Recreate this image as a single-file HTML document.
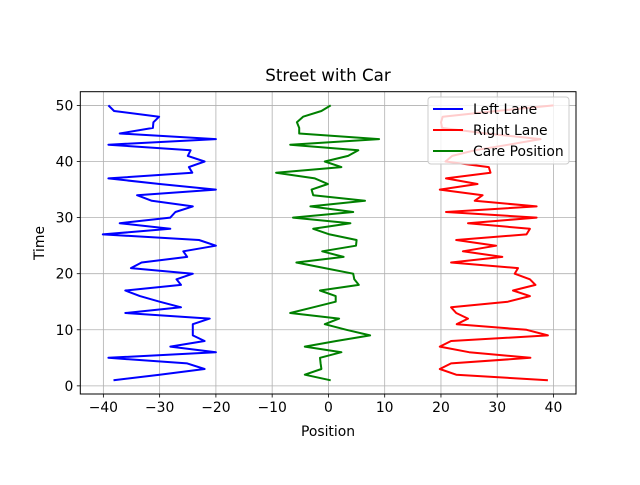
<!DOCTYPE html>
<html><head><meta charset="utf-8"><style>
body{margin:0;background:#fff;}
svg text{font-family:"DejaVu Sans","Liberation Sans",sans-serif;}
</style></head><body>
<svg id="chart" width="640" height="480" xmlns="http://www.w3.org/2000/svg">
<rect width="640" height="480" fill="#fff"/>
<text x="328" y="81" font-size="16.7" text-anchor="middle">Street with Car</text>
<g id="grid"></g>
<g id="series"></g>
<rect x="80.3" y="91.7" width="495.7" height="302.3" fill="none" stroke="#000" stroke-width="1"/>
<g id="ticks"></g>
<text x="328" y="436" font-size="13.9" text-anchor="middle">Position</text>
<text transform="translate(44,243) rotate(-90)" font-size="13.9" text-anchor="middle">Time</text>
<g id="legend">
<rect x="428" y="97" width="141" height="67" rx="3" fill="#fff" fill-opacity="0.8" stroke="#ccc"/>
<line x1="433" y1="109" x2="463" y2="109" stroke="#0000ff" stroke-width="2"/>
<text x="473" y="114" font-size="13.9">Left Lane</text>
<line x1="433" y1="130" x2="463" y2="130" stroke="#ff0000" stroke-width="2"/>
<text x="473" y="135" font-size="13.9">Right Lane</text>
<line x1="433" y1="151" x2="463" y2="151" stroke="#008000" stroke-width="2"/>
<text x="473" y="156" font-size="13.9">Care Position</text>
</g>
</svg>
<script>
const times = Array.from({length:50},(_,i)=>i+1);
const leftLane = [-38.2,-30,-22,-25.1,-39.1,-20,-28.1,-22,-24.1,-24.1,-24.1,-21.1,-36.1,-26.2,-30,-33.5,-36.1,-26.2,-27,-24.1,-35.1,-33.2,-25.1,-25.8,-20,-23,-40.1,-28.1,-37.1,-28.1,-27.2,-24.1,-31.4,-34,-20,-30,-39.1,-24.2,-24.8,-22,-25,-24.5,-39.1,-20,-37.1,-31.2,-31.1,-30.1,-38.1,-39.1];
const rightLane = [39.0,22.7,19.8,21.8,35.9,25,19.8,21.8,39.0,35.2,22.8,24.8,22.7,21.8,31.9,35.8,32.8,36.8,35.8,33.1,33.7,21.8,30.9,23.9,29.8,22.7,35.2,35.8,24.8,37,20.9,37,26.0,27.4,19.8,26.5,20.9,28.8,28.5,20.8,22,26,32,37.7,28,20.2,20,20.3,29.8,40];
const carPos = [0.4,-4.2,-1.25,-1.4,-1.5,2.3,-4.2,1.4,7.4,3.2,-0.65,1.9,-6.8,-2.7,1.3,1.3,-1.5,5.4,4.6,4.4,-0.65,-5.7,2.7,-1.1,4.9,5.0,0.2,-2.7,3.9,-6.3,4.4,-3.2,6.5,-2.7,-3.0,-0.1,-2.4,-9.3,2.3,-0.65,3.5,5.3,-6.8,9.0,-5.2,-5.2,-5.6,-4.5,-1.25,0.4];
const xTicks = [-40,-30,-20,-10,0,10,20,30,40];
const yTicks = [0,10,20,30,40,50];

const NS="http://www.w3.org/2000/svg";
const X0=80.3,X1=576,Y0=394,Y1=91.7,XMIN=-44.1,XMAX=44.0,YMIN=-1.45,YMAX=52.45;
function sx(v){return X0+(v-XMIN)/(XMAX-XMIN)*(X1-X0);}
function sy(v){return Y0-(v-YMIN)/(YMAX-YMIN)*(Y0-Y1);}
function mk(tag,attrs,parent){const e=document.createElementNS(NS,tag);for(const k in attrs)e.setAttribute(k,attrs[k]);parent.appendChild(e);return e;}
const grid=document.getElementById('grid'),ticks=document.getElementById('ticks'),series=document.getElementById('series');
xTicks.forEach(v=>{
  const g=mk('line',{x1:sx(v),x2:sx(v),y1:Y1,y2:Y0,stroke:'#b0b0b0','stroke-width':0.8},grid);
  
  
  const t=mk('line',{x1:sx(v),x2:sx(v),y1:Y0,y2:Y0+3.5,stroke:'#000','stroke-width':0.8},ticks);
  
  
  const l=mk('text',{x:sx(v),y:Y0+18,'font-size':13.9,'text-anchor':'middle'},ticks);
  l.textContent=v<0?'\u2212'+Math.abs(v):String(v);
  
  
});
yTicks.forEach(v=>{
  const g=mk('line',{x1:X0,x2:X1,y1:sy(v),y2:sy(v),stroke:'#b0b0b0','stroke-width':0.8},grid);
  
  
  const t=mk('line',{x1:X0-3.5,x2:X0,y1:sy(v),y2:sy(v),stroke:'#000','stroke-width':0.8},ticks);
  
  
  const l=mk('text',{x:X0-7,y:sy(v)+5,'font-size':13.9,'text-anchor':'end'},ticks);
  l.textContent=String(v);
  
  
});
function line(vals,color,name){
  const pts=vals.map((v,i)=>sx(v).toFixed(1)+','+sy(times[i]).toFixed(1)).join(' ');
  const p=mk('polyline',{points:pts,fill:'none',stroke:color,'stroke-width':2,'stroke-linejoin':'round'},series);
  
  
}
line(leftLane,'#0000ff','left-lane-line');
line(rightLane,'#ff0000','right-lane-line');
line(carPos,'#008000','car-position-line');
</script>
</body></html>
